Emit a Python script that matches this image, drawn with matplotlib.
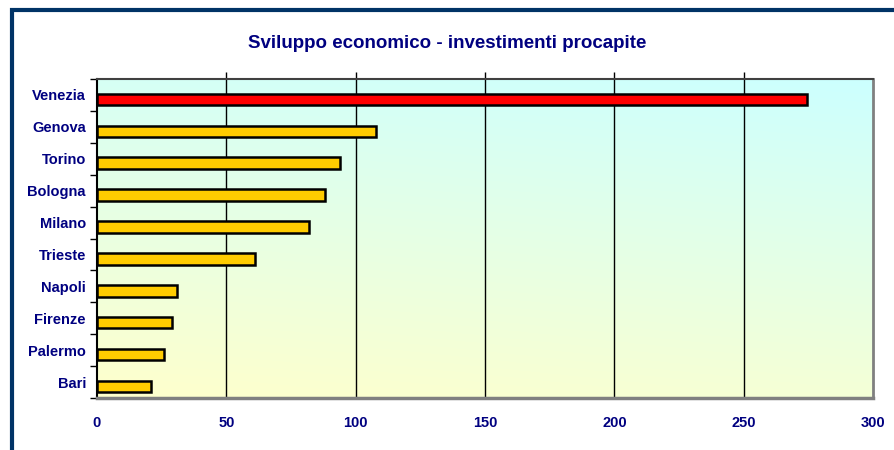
import numpy as np
import matplotlib.pyplot as plt
from matplotlib.patches import Rectangle

cities = ['Venezia', 'Genova', 'Torino', 'Bologna', 'Milano',
          'Trieste', 'Napoli', 'Firenze', 'Palermo', 'Bari']
investimenti = [274.5, 108, 94, 88, 82, 61, 31, 29, 26, 21]
x_ticks = [0, 50, 100, 150, 200, 250, 300]

navy = '#000080'

fig = plt.figure(figsize=(8.95, 4.5), dpi=100)
fig.patch.set_facecolor('white')

# frame around the whole chart, running off the right and bottom edges
frame_top = 1 - 10 / 450
fig.patches.append(Rectangle((12.5 / 895, -0.05), 1.0, frame_top + 0.05,
                             transform=fig.transFigure, fill=False,
                             edgecolor='#003366', linewidth=3))

ax = fig.add_axes([97 / 895, 1 - 398 / 450, 776 / 895, 319 / 450])

n = len(cities)
ax.set_xlim(0, 300)
ax.set_ylim(n - 0.5, -0.5)

# background gradient: cyan at the top right, pale yellow at the bottom left
gx, gy = np.meshgrid(np.linspace(0, 1, 200), np.linspace(0, 1, 200))
t = np.clip(0.8 * gy + 0.2 * gx, 0, 1)
cyan = np.array([0.80, 1.0, 1.0])
yellow = np.array([1.0, 1.0, 0.80])
img = yellow[None, None, :] * (1 - t[..., None]) + cyan[None, None, :] * t[..., None]
ax.imshow(img, extent=[0, 300, n - 0.5, -0.5], origin='lower', aspect='auto', zorder=0)

# bars sit a little below the middle of each category slot
pos = np.arange(n)
colors = ['#FF0000'] + ['#FFCC00'] * (n - 1)
ax.barh(pos + 0.14, investimenti, height=0.36, color=colors,
        edgecolor='black', linewidth=1.8, zorder=3)

for v in x_ticks[1:-1]:
    ax.axvline(v, color='black', linewidth=1, zorder=2)

ax.set_xticks(x_ticks)
ax.set_xticklabels([str(v) for v in x_ticks])
ax.set_yticks(pos)
ax.set_yticklabels(cities)
ax.tick_params(axis='y', length=0, pad=8)
ax.tick_params(axis='x', length=0, pad=13)
for lab in ax.get_xticklabels() + ax.get_yticklabels():
    lab.set_color(navy)
    lab.set_fontweight('bold')
    lab.set_fontsize(10.5)
    lab.set_family('Liberation Sans')

# category boundary ticks on the left, gridline stubs above the top
ax.set_yticks(np.arange(-0.5, n, 1), minor=True)
ax.tick_params(axis='y', which='minor', length=5, width=1, color='black', direction='out')
sec = ax.secondary_xaxis('top')
sec.set_xticks(x_ticks[1:-1])
sec.set_xticklabels([])
sec.tick_params(length=5, width=1, color='black', direction='out')
sec.spines['top'].set_visible(False)

ax.spines['left'].set_color('black')
ax.spines['left'].set_linewidth(1.5)
ax.spines['top'].set_color('#404040')
ax.spines['top'].set_linewidth(1.5)
ax.spines['right'].set_color('#808080')
ax.spines['right'].set_linewidth(2)
ax.spines['bottom'].set_color('#808080')
ax.spines['bottom'].set_linewidth(2.5)

fig.text(0.5, 1 - 44 / 450, 'Sviluppo economico - investimenti procapite',
         ha='center', va='center', color=navy, fontsize=13.5, fontweight='bold',
         family='Liberation Sans')

fig.savefig('out.png', dpi=100)
